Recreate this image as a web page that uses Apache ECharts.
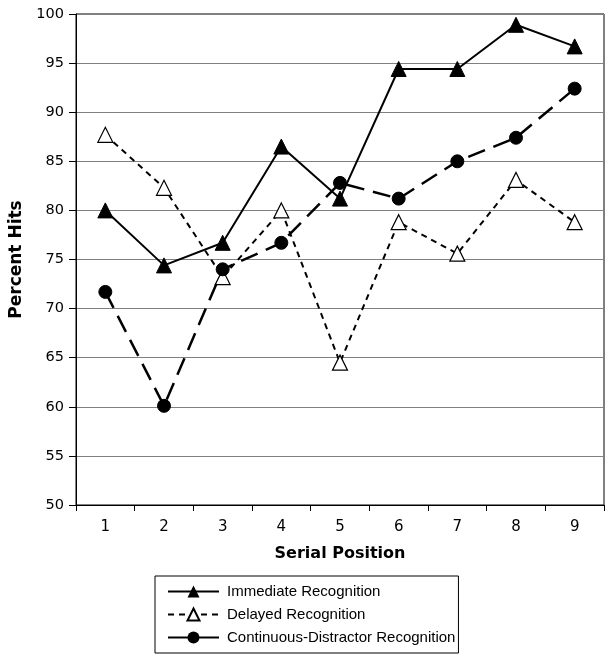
<!DOCTYPE html>
<html>
<head>
<meta charset="utf-8">
<script src="https://cdn.jsdelivr.net/npm/echarts@6/dist/echarts.min.js"></script>
<style>
html,body{margin:0;padding:0;background:#fff;}
#chart{width:608px;height:658px;}
</style>
</head>
<body>
<div id="chart"></div>
<script>
var categories = ['1','2','3','4','5','6','7','8','9'];
var immediate = [80.0, 74.4, 76.7, 86.5, 81.2, 94.4, 94.4, 98.9, 96.7];
var delayed = [87.7, 82.3, 73.2, 80.0, 64.5, 78.8, 75.6, 83.1, 78.8];
var continuous = [71.7, 60.1, 74.0, 76.7, 82.8, 81.2, 85.0, 87.4, 92.4];
var seriesNames = ['Immediate Recognition', 'Delayed Recognition', 'Continuous-Distractor Recognition'];

var axisFont = 'DejaVu Sans, sans-serif';
var legendFont = 'Liberation Sans, Arial, sans-serif';
var chart = echarts.init(document.getElementById('chart'), null, {renderer: 'canvas'});
chart.setOption({
  animation: false,
  backgroundColor: '#fff',
  grid: {left: 76, right: 4, top: 14, bottom: 153, show: true, borderColor: '#000', borderWidth: 1, backgroundColor: 'transparent'},
  xAxis: {
    type: 'category',
    data: categories,
    boundaryGap: true,
    name: 'Serial Position',
    nameLocation: 'middle',
    nameGap: 41,
    nameTextStyle: {fontFamily: axisFont, fontSize: 16, fontWeight: 'bold', color: '#000'},
    axisLine: {lineStyle: {color: '#000', width: 1}},
    axisTick: {show: true, alignWithLabel: false, length: 6, lineStyle: {color: '#000'}},
    axisLabel: {fontFamily: axisFont, fontSize: 15, color: '#000', margin: 15},
    splitLine: {show: false}
  },
  yAxis: {
    type: 'value',
    min: 50, max: 100, interval: 5,
    name: 'Percent Hits',
    nameLocation: 'middle',
    nameGap: 12,
    nameTextStyle: {fontFamily: axisFont, fontSize: 17, fontWeight: 'bold', color: '#000'},
    axisLine: {show: true, lineStyle: {color: '#000', width: 1}},
    axisTick: {show: true, length: 7, lineStyle: {color: '#000'}},
    axisLabel: {fontFamily: axisFont, fontSize: 14.5, color: '#000', margin: 12},
    splitLine: {show: true, lineStyle: {color: '#808080', width: 1}}
  },
  legend: {
    orient: 'vertical',
    left: 155, top: 576,
    padding: [8, 3, 8, 12],
    itemGap: 8,
    itemWidth: 51,
    itemHeight: 15,
    borderColor: '#000',
    borderWidth: 1,
    textStyle: {fontFamily: legendFont, fontSize: 15, color: '#000', padding: [0, 0, 0, 3]},
    data: [
      {name: seriesNames[0]},
      {name: seriesNames[1]},
      {name: seriesNames[2], lineStyle: {type: 'solid'}}
    ]
  },
  series: [
    {
      name: seriesNames[0], type: 'line', data: immediate,
      symbol: 'triangle', symbolSize: 15,
      itemStyle: {color: '#000', borderColor: '#000'},
      lineStyle: {color: '#000', width: 2, type: 'solid'},
      z: 3
    },
    {
      name: seriesNames[1], type: 'line', data: delayed,
      symbol: 'triangle', symbolSize: 15,
      itemStyle: {color: '#fff', borderColor: '#000', borderWidth: 1.2},
      lineStyle: {color: '#000', width: 2, type: [6, 5]},
      z: 2
    },
    {
      name: seriesNames[2], type: 'line', data: continuous,
      symbol: 'circle', symbolSize: 13,
      itemStyle: {color: '#000', borderColor: '#000'},
      lineStyle: {color: '#000', width: 2.5, type: [18, 9]},
      z: 4
    }
  ]
});
</script>
</body>
</html>
